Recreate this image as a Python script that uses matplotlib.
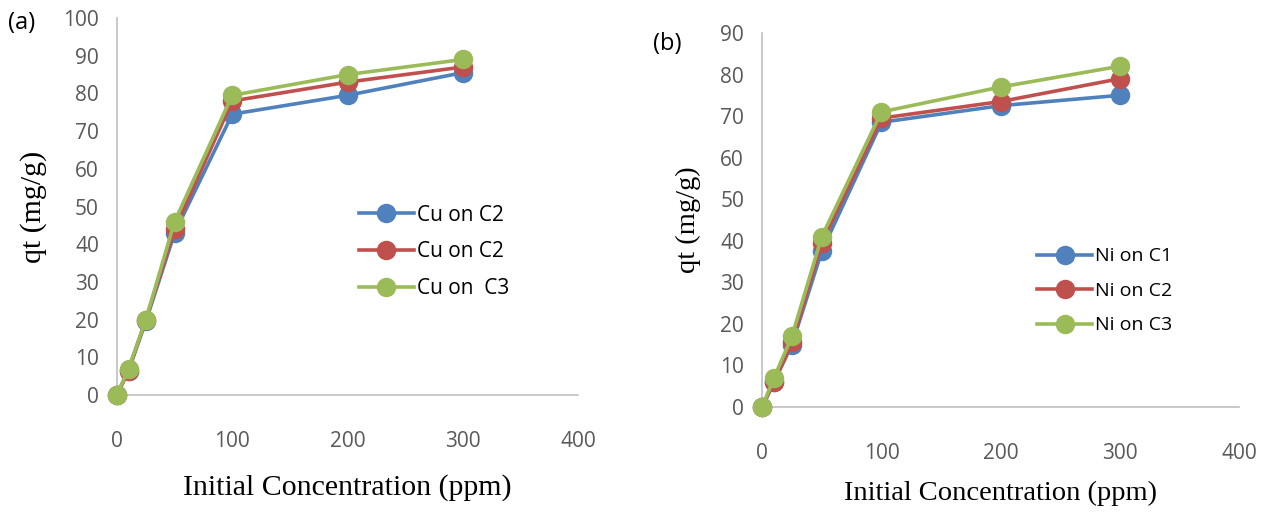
import matplotlib
matplotlib.use('Agg')
import matplotlib.pyplot as plt

conc = [0, 10, 25, 50, 100, 200, 300]

cu_labels = ['Cu on C2', 'Cu on C2', 'Cu on  C3']
cu_c1 = [0, 6.5, 19.5, 43, 74.5, 79.5, 85.5]
cu_c2 = [0, 6.5, 20, 44, 78, 83, 87]
cu_c3 = [0, 7, 20, 46, 79.5, 85, 89]

ni_labels = ['Ni on C1', 'Ni on C2', 'Ni on C3']
ni_c1 = [0, 6, 15, 37.5, 68.5, 72.5, 75]
ni_c2 = [0, 6, 15.5, 39.5, 69.5, 73.5, 79]
ni_c3 = [0, 7, 17, 41, 71, 77, 82]

colors = ['#4F81BD', '#C0504D', '#9BBB59']
grey = '#BFBFBF'
tickcol = '#595959'
sans = ['Open Sans', 'DejaVu Sans']
serif = ['Liberation Serif', 'DejaVu Serif']

fig = plt.figure(figsize=(12.66, 5.15), dpi=100)
ax1 = fig.add_axes([0.0924, 0.233, 0.3642, 0.732])
ax2 = fig.add_axes([0.602, 0.21, 0.377, 0.726])


def style(ax, ymax, xlabel_pad, ylabel_pad, lab_size):
    for s in ['top', 'right']:
        ax.spines[s].set_visible(False)
    for s in ['left', 'bottom']:
        ax.spines[s].set_color(grey)
        ax.spines[s].set_linewidth(1.2)
    ax.set_xlim(0, 400)
    ax.set_ylim(0, ymax)
    ax.set_xticks([0, 100, 200, 300, 400])
    ax.set_yticks(range(0, ymax + 1, 10))
    ax.tick_params(length=0, labelsize=15, labelcolor=tickcol)
    ax.tick_params(axis='x', pad=26)
    ax.tick_params(axis='y', pad=13)
    for t in ax.get_xticklabels() + ax.get_yticklabels():
        t.set_family(sans)
    ax.set_xlabel('Initial Concentration (ppm)', family=serif, fontsize=lab_size,
                  labelpad=xlabel_pad)
    ax.set_ylabel('qt (mg/g)', family=serif, fontsize=lab_size, labelpad=ylabel_pad)


for ax, series, labels in [(ax1, [cu_c1, cu_c2, cu_c3], cu_labels),
                           (ax2, [ni_c1, ni_c2, ni_c3], ni_labels)]:
    for ys, lab, c in zip(series, labels, colors):
        ax.plot(conc, ys, color=c, lw=2.6, marker='o', ms=13, label=lab,
                clip_on=False, zorder=3)

style(ax1, 100, 16, 12, 21.5)
style(ax2, 90, 12, 14, 20.5)

ax1.legend(loc='center left', bbox_to_anchor=(0.485, 0.38), frameon=False,
           prop={'family': sans, 'size': 15}, handlelength=2.6,
           labelspacing=0.75, handletextpad=0.15)
ax2.legend(loc='center left', bbox_to_anchor=(0.54, 0.31), frameon=False,
           prop={'family': sans, 'size': 14}, handlelength=2.8,
           labelspacing=0.85, handletextpad=0.15)

fig.text(0.006, 0.955, '(a)', family=sans, fontsize=17, va='center')
fig.text(0.516, 0.915, '(b)', family=sans, fontsize=17, va='center')

fig.savefig('out.png', dpi=100)
